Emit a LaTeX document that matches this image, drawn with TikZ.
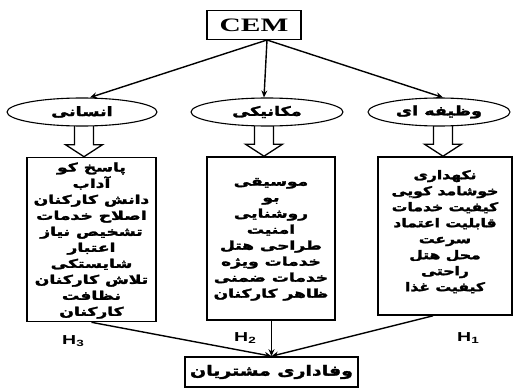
\documentclass[tikz,border=0pt]{standalone}
\usepackage{fontspec}
\usepackage{graphicx}
\usetikzlibrary{shapes.geometric,calc,arrows.meta}
\TeXXeTstate=1
\setmainfont{Liberation Serif}
\newfontfamily\fa[Script=Arabic,BoldFont={DejaVu Sans Bold},BoldFeatures={FakeBold=2}]{DejaVu Sans}
\newfontfamily\hsans{Liberation Sans}
\newcommand{\R}[1]{\beginR #1\endR}
\newcommand{\blockarr}[2]{%
  \draw[barrow] let \p1=(#1), \p2=(#2.north) in
    (\x1-9.5pt,\y1) -- (\x1-9.5pt,\y2+12pt) -- (\x1-18.5pt,\y2+12pt) -- (\x1,\y2)
    -- (\x1+18.5pt,\y2+12pt) -- (\x1+9.5pt,\y2+12pt) -- (\x1+9.5pt,\y1);}
\begin{document}
\begin{tikzpicture}[x=1pt,y=-1pt,
  box/.style={draw,line width=1.6pt,rectangle,inner sep=0pt,fill=white},
  ell/.style={draw,line width=1.1pt,ellipse,inner sep=0pt,fill=white},
  barrow/.style={draw,line width=1.3pt,line join=miter},
  conn/.style={line width=1.4pt,-{Stealth[length=7pt,width=6pt]}},
  atext/.style={font=\fa\bfseries\fontsize{12}{16}\selectfont,align=center},
  hlab/.style={font=\hsans\bfseries\fontsize{13}{13}\selectfont}]
\useasboundingbox (0,0) rectangle (515,388);
% top
\node[box,minimum width=94pt,minimum height=29pt] (cem) at (254,25)
  {\scalebox{1.55}[1]{\bfseries\fontsize{19}{19}\selectfont CEM}};
% block arrows first (ellipses drawn over their tops)
\coordinate (a1) at (84,120);
\coordinate (a2) at (264,120);
\coordinate (a3) at (443,120);
% boxes
\node[box,minimum width=129pt,minimum height=164pt] (b1) at (91.5,239.5) {};
\node[box,minimum width=128pt,minimum height=163pt] (b2) at (271,238.5) {};
\node[box,minimum width=134pt,minimum height=158pt] (b3) at (445,236) {};
\blockarr{a1}{b1}
\blockarr{a2}{b2}
\blockarr{a3}{b3}
% ellipses
\node[ell,minimum width=150pt,minimum height=28pt] (e1) at (82,112)
  {\scalebox{1.35}[1]{\fa\bfseries\fontsize{13}{13}\selectfont\R{انسانی}}};
\node[ell,minimum width=152pt,minimum height=28pt] (e2) at (267,112)
  {\scalebox{1.35}[1]{\fa\bfseries\fontsize{13}{13}\selectfont\R{مکانیکی}}};
\node[ell,minimum width=142pt,minimum height=28pt] (e3) at (439,112)
  {\scalebox{1.35}[1]{\fa\bfseries\fontsize{13}{13}\selectfont\R{وظیفه ای}}};
% arrows from CEM
\coordinate (s0) at (267,40);
\draw[conn] (s0) -- (e1.north -| 90,0) ;
\draw[conn] (s0) -- (e2.north -| 264,0);
\draw[conn] (s0) -- (e3.north -| 443,0);
% box texts
\node[atext] at ($(b1.center)+(0,1)$) {\scalebox{1.43}[1]{\begin{tabular}{@{}c@{}}
\R{پاسخ کو}\\ \R{آداب}\\ \R{دانش کارکنان}\\ \R{اصلاح خدمات}\\ \R{تشخیص نیاز}\\
\R{اعتبار}\\ \R{شایستکی}\\ \R{تلاش کارکنان}\\ \R{نظافت}\\ \R{کارکنان}\end{tabular}}};
\node[atext] at (b2.center) {\scalebox{1.42}[1]{\begin{tabular}{@{}c@{}}
\R{موسیقی}\\ \R{بو}\\ \R{روشنایی}\\ \R{امنیت}\\ \R{طراحی هتل}\\
\R{خدمات ویژه}\\ \R{خدمات ضمنی}\\ \R{ظاهر کارکنان}\end{tabular}}};
\node[atext] at ($(b3.center)+(0,-4)$) {\scalebox{1.3}[1]{\begin{tabular}{@{}c@{}}
\R{نکهداری}\\ \R{خوشامد کویی}\\ \R{کیفیت خدمات}\\ \R{قابلیت اعتماد}\\ \R{سرعت}\\
\R{محل هتل}\\ \R{راحتی}\\ \R{کیفیت غذا}\end{tabular}}};
% bottom
\node[box,minimum width=173pt,minimum height=30pt] (bb) at (271.5,372)
  {\scalebox{1.35}[1]{\fa\bfseries\fontsize{14}{14}\selectfont\R{وفاداری مشتریان}}};
\draw[conn] (b1.south) -- (bb.north);
\draw[conn] (b2.south -| bb.north) -- (bb.north);
\draw[conn] ($(b3.south)+(-12,0)$) -- (bb.north);
% H labels
\node[hlab] (h3) at (73,341) {\scalebox{1.5}[1]{H\raisebox{-1.5pt}{\fontsize{9}{9}\selectfont 3}}};
\node[hlab] (h2) at (245,338) {\scalebox{1.5}[1]{H\raisebox{-1.5pt}{\fontsize{9}{9}\selectfont 2}}};
\node[hlab] (h1) at (468,338) {\scalebox{1.5}[1]{H\raisebox{-1.5pt}{\fontsize{9}{9}\selectfont 1}}};
\end{tikzpicture}
\end{document}
